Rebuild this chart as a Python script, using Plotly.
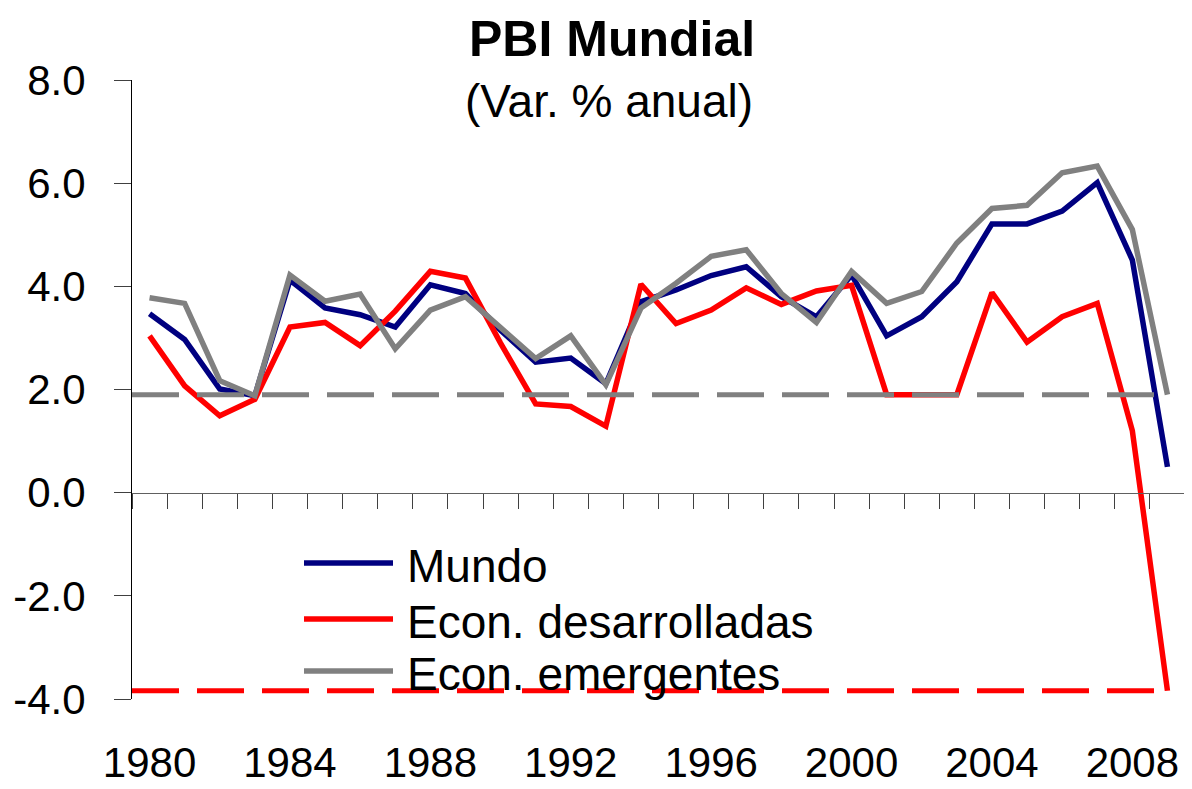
import plotly.graph_objects as go

years = list(range(1980, 2010))

mundo = [3.47, 2.97, 2.01, 1.88, 4.12, 3.58, 3.45, 3.21, 4.03, 3.86,
         3.15, 2.53, 2.61, 2.11, 3.70, 3.93, 4.21, 4.38, 3.80, 3.41,
         4.22, 3.04, 3.41, 4.09, 5.21, 5.21, 5.46, 6.01, 4.51, 0.50]

desarrolladas = [3.04, 2.07, 1.49, 1.81, 3.21, 3.30, 2.85, 3.52, 4.29, 4.16,
                 2.90, 1.72, 1.67, 1.29, 4.04, 3.28, 3.54, 3.97, 3.65, 3.91,
                 4.02, 1.90, 1.90, 1.90, 3.88, 2.92, 3.41, 3.67, 1.20, -3.84]

emergentes = [3.78, 3.67, 2.17, 1.88, 4.22, 3.71, 3.85, 2.79, 3.54, 3.80,
              3.20, 2.60, 3.04, 2.09, 3.58, 4.06, 4.58, 4.71, 3.86, 3.30,
              4.29, 3.67, 3.90, 4.84, 5.51, 5.57, 6.20, 6.33, 5.10, 1.90]

series_names = ["Mundo", "Econ. desarrolladas", "Econ. emergentes"]
series_colors = ["#000080", "#FF0000", "#808080"]

y_tick_vals = [-4, -2, 0, 2, 4, 6, 8]
y_tick_text = ["-4.0", "-2.0", "0.0", "2.0", "4.0", "6.0", "8.0"]
x_tick_vals = years[::4]
x_tick_text = [str(y) for y in x_tick_vals]

title_text = "PBI Mundial"
subtitle_text = "(Var. % anual)"

FONT = "Liberation Sans, Arial, sans-serif"

# layout, in page pixels (the page body has an 8px default margin)
OFF = 8
PAGE_W, PAGE_H = 1192, 789
W, H = PAGE_W - OFF, PAGE_H - OFF
PLOT_L, PLOT_R, PLOT_T, PLOT_B = 132, 1185, 80, 699
ML, MR = PLOT_L - OFF, (PAGE_W) - PLOT_R
MT, MB = PLOT_T - OFF, PAGE_H - PLOT_B
PW, PH = PLOT_R - PLOT_L, PLOT_B - PLOT_T


def px_x(px):
    return (px - PLOT_L) / PW


def px_y(py):
    return (PLOT_B - py) / PH


ymin, ymax = -4, 8
xmin, xmax = years[0] - 0.5, years[-1] + 0.5
zero_pos = (0 - ymin) / (ymax - ymin)
boundaries = [y - 0.5 for y in years] + [years[-1] + 0.5]

fig = go.Figure()

for name, vals, col in zip(series_names, [mundo, desarrolladas, emergentes], series_colors):
    fig.add_trace(go.Scatter(
        x=years, y=vals, name=name, mode="lines",
        line=dict(color=col, width=5.5),
        xaxis="x", yaxis="y", showlegend=False,
    ))

# reference dashed lines at the 2009 values
fig.add_trace(go.Scatter(
    x=[xmin, years[-1]], y=[emergentes[-1], emergentes[-1]], mode="lines",
    line=dict(color="#808080", width=5, dash="47px,18px"),
    showlegend=False, hoverinfo="skip", xaxis="x2", yaxis="y",
))
fig.add_trace(go.Scatter(
    x=[xmin, years[-1]], y=[desarrolladas[-1], desarrolladas[-1]], mode="lines",
    line=dict(color="#FF0000", width=5, dash="47px,18px"),
    showlegend=False, hoverinfo="skip", xaxis="x2", yaxis="y",
))

# legend (drawn manually to match the original spacing)
legend_rows_py = [563, 619, 671]
shapes = []
annotations = []
for name, col, ry in zip(series_names, series_colors, legend_rows_py):
    shapes.append(dict(
        type="line", xref="paper", yref="paper",
        x0=px_x(304), x1=px_x(393), y0=px_y(ry), y1=px_y(ry),
        line=dict(color=col, width=5.5),
    ))
    annotations.append(dict(
        text=name, xref="paper", yref="paper",
        x=px_x(405), y=px_y(ry + 3), xanchor="left", yanchor="middle",
        showarrow=False, font=dict(size=46),
    ))

annotations += [
    dict(text="<b>" + title_text + "</b>", xref="paper", yref="paper",
         x=px_x(612), y=px_y(39), xanchor="center", yanchor="middle",
         showarrow=False, font=dict(size=50)),
    dict(text=subtitle_text, xref="paper", yref="paper",
         x=px_x(609), y=px_y(101), xanchor="center", yanchor="middle",
         showarrow=False, font=dict(size=46)),
]

fig.update_layout(
    width=W, height=H,
    margin=dict(l=ML, r=MR, t=MT, b=MB, pad=0),
    paper_bgcolor="white", plot_bgcolor="white",
    font=dict(family=FONT, size=42, color="black"),
    showlegend=False,
    xaxis=dict(
        range=[xmin, xmax], showgrid=False, zeroline=False, showline=False,
        tickvals=x_tick_vals, ticktext=x_tick_text,
        ticks="outside", ticklen=27, tickcolor="rgba(0,0,0,0)",
        tickfont=dict(size=42), automargin=False,
    ),
    xaxis2=dict(
        range=[xmin, xmax], overlaying="x", anchor="free", position=zero_pos,
        showgrid=False, zeroline=False, showline=True, linecolor="#606060", linewidth=1,
        tickvals=boundaries, ticks="outside", ticklen=15, tickcolor="#404040",
        showticklabels=False, automargin=False,
    ),
    yaxis=dict(
        range=[ymin, ymax], showgrid=False, zeroline=False,
        showline=True, linecolor="black", linewidth=1,
        tickvals=y_tick_vals, ticktext=y_tick_text,
        ticks="outside", ticklen=17, tickcolor="#404040",
        ticklabelstandoff=20, tickfont=dict(size=42), automargin=False,
    ),
    shapes=shapes,
    annotations=annotations,
)

fig.write_html("out.html")
